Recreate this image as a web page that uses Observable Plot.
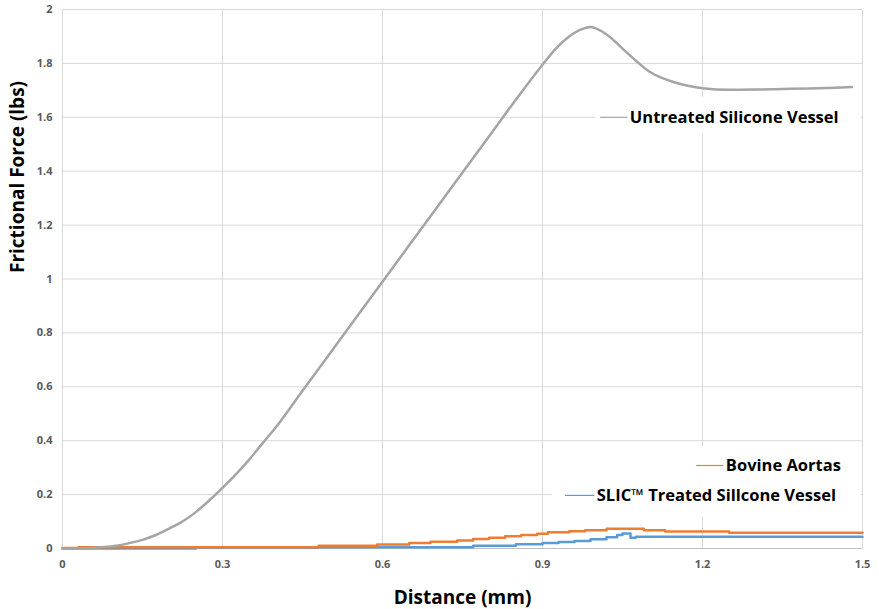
<!DOCTYPE html>
<html><head><meta charset="utf-8">
<script src="https://cdn.jsdelivr.net/npm/d3@7"></script>
<script src="https://cdn.jsdelivr.net/npm/@observablehq/plot@0.6"></script>
<style>body{margin:0;background:#fff}</style>
</head><body><div id="chart"></div>
<script>
// Untreated Silicone Vessel (distance mm, force lbs)
const untreatedX = [0,0.05,0.1,0.125,0.15,0.175,0.2,0.225,0.25,0.275,0.3,0.325,0.35,0.375,0.4,0.45,0.5,0.55,0.6,0.65,0.7,0.75,0.8,0.85,0.9,0.925,0.95,0.975,0.99,1.0,1.025,1.05,1.075,1.1,1.125,1.15,1.175,1.2,1.25,1.3,1.35,1.4,1.45,1.48];
const untreatedY = [0,0.002,0.01,0.02,0.032,0.05,0.074,0.1,0.135,0.178,0.225,0.275,0.33,0.39,0.45,0.585,0.72,0.855,0.99,1.125,1.26,1.395,1.53,1.665,1.795,1.855,1.9,1.928,1.935,1.93,1.9,1.855,1.81,1.77,1.745,1.728,1.716,1.708,1.702,1.703,1.705,1.707,1.71,1.712];
// Bovine Aortas (step data)
const bovineX = [0,0.03,0.48,0.59,0.65,0.69,0.74,0.77,0.80,0.83,0.86,0.89,0.91,0.95,0.98,1.02,1.09,1.13,1.25,1.5];
const bovineY = [0.002,0.005,0.010,0.015,0.020,0.025,0.030,0.035,0.040,0.045,0.050,0.055,0.060,0.064,0.068,0.073,0.068,0.063,0.058,0.058];
// SLIC Treated Silicone Vessel (step data)
const slicX = [0,0.25,0.48,0.77,0.85,0.90,0.93,0.96,0.99,1.02,1.04,1.05,1.065,1.075,1.5];
const slicY = [0.0,0.003,0.005,0.010,0.016,0.020,0.024,0.028,0.034,0.042,0.050,0.056,0.040,0.044,0.044];

const xTicks = [0,0.3,0.6,0.9,1.2,1.5];
const yTicks = [0,0.2,0.4,0.6,0.8,1,1.2,1.4,1.6,1.8,2];
const seriesNames = ["Untreated Silicone Vessel","Bovine Aortas","SLIC™ Treated Sillcone Vessel"];
const seriesColors = ["#a5a5a5","#ed7d31","#5b9bd5"];
// label anchors (data units): swatch start, swatch end, label y
const labelX1 = [1.009,1.189,0.943];
const labelX2 = [1.06,1.24,0.998];
const labelY = [1.60,0.308,0.197];
// white label backgrounds (data units)
const boxes = [
  {x1:1.0, x2:1.497, y1:1.535, y2:1.675},
  {x1:0.919, x2:1.497, y1:0.115, y2:0.378}
];

const toRows = (xs, ys) => xs.map((x,i)=>({x, y: ys[i]}));
const untreated = toRows(untreatedX, untreatedY);
const bovine = toRows(bovineX, bovineY);
const slic = toRows(slicX, slicY);
const labels = seriesNames.map((name,i)=>({name, color: seriesColors[i], x1: labelX1[i], x2: labelX2[i], y: labelY[i]}));

const font = "'Open Sans', 'Liberation Sans', sans-serif";
const chart = Plot.plot({
  width: 879, height: 609,
  marginLeft: 62, marginRight: 17, marginTop: 9, marginBottom: 61,
  style: {fontFamily: font, background: "#fff"},
  x: {domain: [0,1.5]},
  y: {domain: [0,2]},
  marks: [
    Plot.gridX(xTicks, {stroke: "#d9d9d9", strokeOpacity: 1, strokeWidth: 1}),
    Plot.gridY(yTicks, {stroke: "#d9d9d9", strokeOpacity: 1, strokeWidth: 1}),
    Plot.ruleY([0], {stroke: "#bfbfbf", strokeWidth: 1}),
    Plot.rect(boxes, {x1:"x1", x2:"x2", y1:"y1", y2:"y2", fill: "#fff"}),
    Plot.axisX(xTicks, {tickSize: 0, tickPadding: 12, fontSize: 11, fontWeight: "bold", fill: "#595959", label: null, tickFormat: d => String(d)}),
    Plot.axisY(yTicks, {tickSize: 0, tickPadding: 10, fontSize: 11, fontWeight: "bold", fill: "#595959", label: null, tickFormat: d => String(d)}),
    Plot.line(slic, {x:"x", y:"y", curve: "step-after", stroke: seriesColors[2], strokeWidth: 2.5}),
    Plot.line(bovine, {x:"x", y:"y", curve: "step-after", stroke: seriesColors[1], strokeWidth: 2.5}),
    Plot.line(untreated, {x:"x", y:"y", curve: "monotone-x", stroke: seriesColors[0], strokeWidth: 2.5}),
    Plot.ruleY(labels, {x1:"x1", x2:"x2", y:"y", stroke:"color", strokeWidth: 1.2}),
    Plot.text(labels, {x:"x2", y:"y", text:"name", textAnchor:"start", dx: 2, fontSize: 16.5, fontWeight:"bold", fill:"#000"}),
    Plot.text(["Distance (mm)"], {frameAnchor:"bottom", dy: 55, fontSize: 19, fontWeight:"bold", fill:"#000"}),
    Plot.text(["Frictional Force (lbs)"], {frameAnchor:"left", dx: -45, dy: -6, rotate: -90, fontSize: 19, fontWeight:"bold", fill:"#000"})
  ]
});
document.getElementById("chart").append(chart);
</script>
</body></html>
